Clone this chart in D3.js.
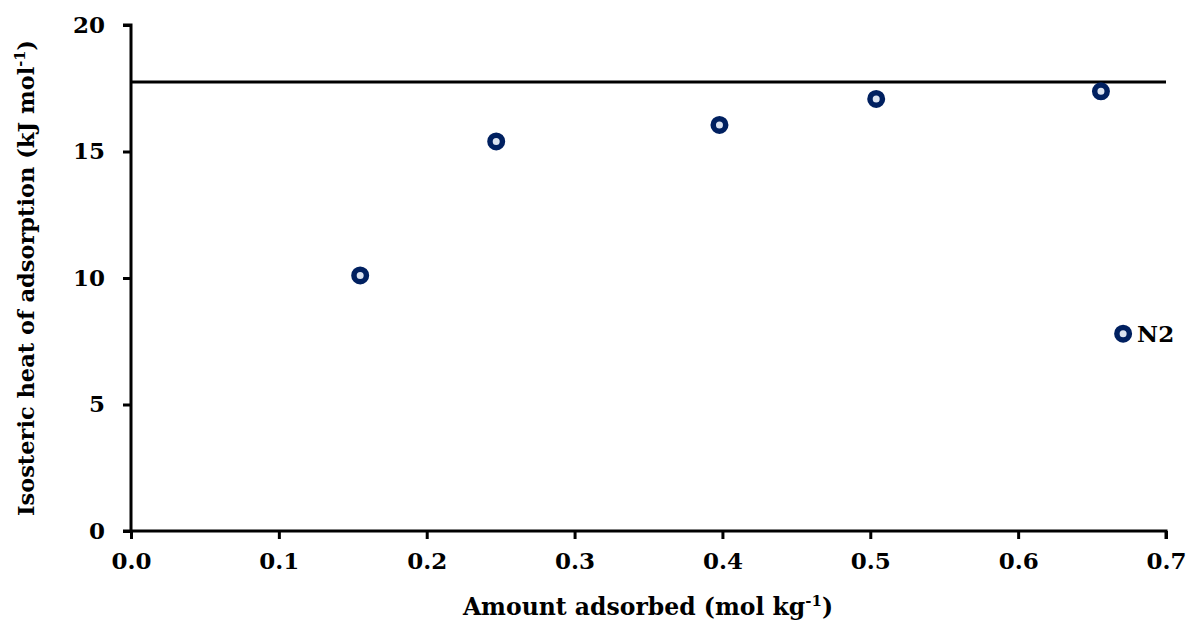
<!DOCTYPE html>
<html>
<head>
<meta charset="utf-8">
<script src="https://cdn.jsdelivr.net/npm/d3@7"></script>
<style>
  body { margin: 0; background: #fff; }
  svg text { font-family: "DejaVu Serif", "Liberation Serif", serif; font-weight: bold; fill: #000; }
</style>
</head>
<body>
<svg id="chart" width="1189" height="626"></svg>
<script>
// Isosteric heat of adsorption for N2
const amountAdsorbed = [0.155, 0.247, 0.398, 0.504, 0.656];
const isostericHeat = [10.1, 15.4, 16.05, 17.08, 17.38];
const referenceLineX = [0.0, 0.7];
const referenceLineY = [17.75, 17.75];
const xTicks = [0.0, 0.1, 0.2, 0.3, 0.4, 0.5, 0.6, 0.7];
const yTicks = [0, 5, 10, 15, 20];
const seriesName = "N2";
const legendPos = [0.671, 7.8];

const svg = d3.select("#chart");
const margin = { left: 131, right: 23, top: 25, bottom: 95 };
const W = 1189, H = 626;

const x = d3.scaleLinear().domain([0, 0.7]).range([margin.left, W - margin.right]);
const y = d3.scaleLinear().domain([0, 20]).range([H - margin.bottom, margin.top]);

const navy = "#002060";
const markerFill = "#dbe3f0";

// Reference line
svg.append("path")
  .datum(referenceLineX.map((d, i) => [d, referenceLineY[i]]))
  .attr("d", d3.line().x(d => x(d[0])).y(d => y(d[1])))
  .attr("stroke", "#000").attr("stroke-width", 3).attr("fill", "none");

// Axes
const xAxis = svg.append("g")
  .attr("transform", `translate(0,${y(0)})`)
  .call(d3.axisBottom(x).tickValues(xTicks).tickFormat(d3.format(".1f")).tickSizeOuter(0).tickSize(8).tickPadding(14));
const yAxis = svg.append("g")
  .attr("transform", `translate(${x(0)},0)`)
  .call(d3.axisLeft(y).tickValues(yTicks).tickFormat(d3.format("d")).tickSizeOuter(0).tickSize(8).tickPadding(18));

[xAxis, yAxis].forEach(g => {
  g.select(".domain").attr("stroke", "#000").attr("stroke-width", 3);
  g.selectAll(".tick line").attr("stroke", "#000").attr("stroke-width", 3);
  g.selectAll(".tick text").attr("font-size", 23).attr("font-family", "DejaVu Serif").attr("font-weight", "bold").attr("fill", "#000");
});
// extend domain across the corner
xAxis.select(".domain").attr("d", `M${x(0) - 8},0H${x(0.7)}V8`);
yAxis.select(".domain").attr("d", `M-8,${y(20)}H0V${y(0)}`);

// Data markers
svg.append("g").selectAll("circle")
  .data(amountAdsorbed.map((d, i) => [d, isostericHeat[i]]))
  .join("circle")
  .attr("cx", d => x(d[0])).attr("cy", d => y(d[1]))
  .attr("r", 6.25)
  .attr("fill", markerFill).attr("stroke", navy).attr("stroke-width", 5.5);

// Legend
svg.append("circle")
  .attr("cx", x(legendPos[0])).attr("cy", y(legendPos[1]))
  .attr("r", 6.25).attr("fill", markerFill).attr("stroke", navy).attr("stroke-width", 5.5);
svg.append("text")
  .attr("x", x(legendPos[0]) + 14).attr("y", y(legendPos[1]) + 8)
  .attr("font-size", 23).text(seriesName);

// Axis titles
const xt = svg.append("text")
  .attr("x", 648).attr("y", 615).attr("text-anchor", "middle").attr("font-size", 23.5);
xt.append("tspan").text("Amount adsorbed (mol kg");
xt.append("tspan").attr("font-size", 15).attr("dy", -9).text("-1");
xt.append("tspan").attr("dy", 9).text(")");

const yt = svg.append("text")
  .attr("transform", "translate(34,278) rotate(-90)")
  .attr("text-anchor", "middle").attr("font-size", 22.5);
yt.append("tspan").text("Isosteric heat of adsorption (kJ mol");
yt.append("tspan").attr("font-size", 14.5).attr("dy", -9).text("-1");
yt.append("tspan").attr("dy", 9).text(")");
</script>
</body>
</html>
